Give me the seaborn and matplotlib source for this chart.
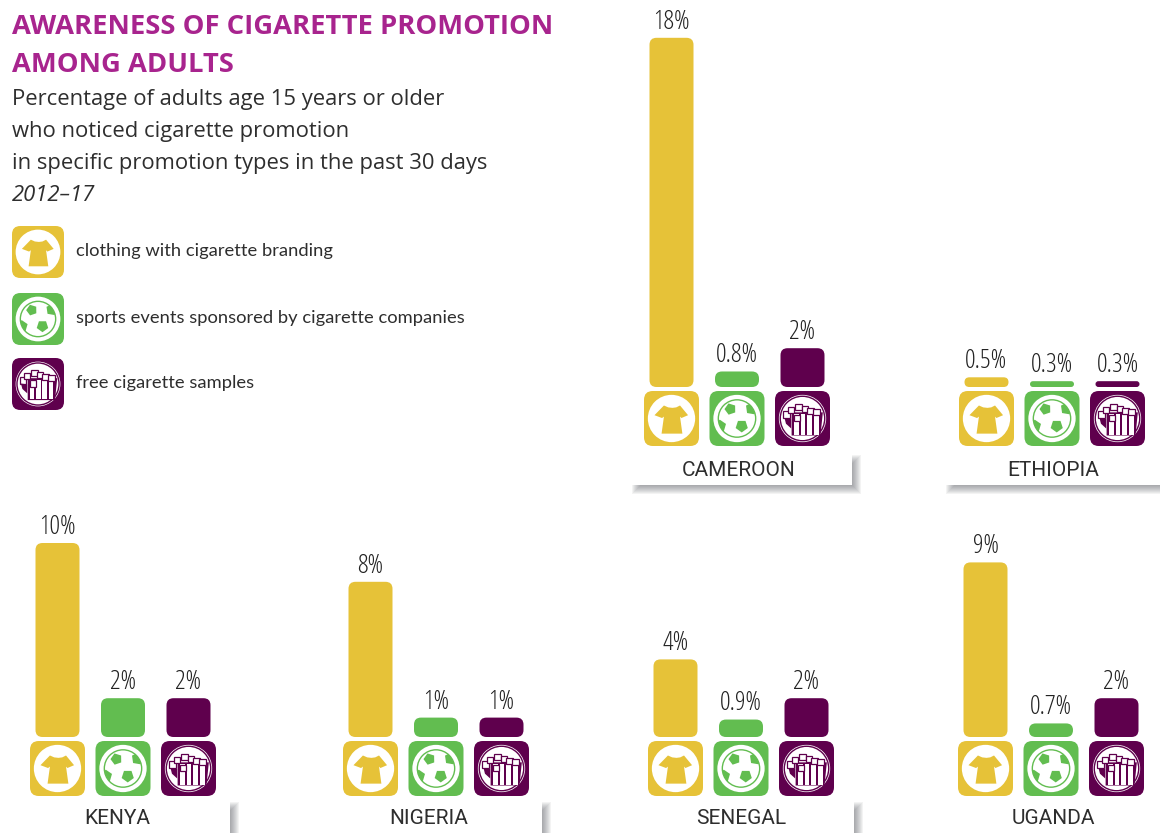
import matplotlib
matplotlib.use("Agg")
import matplotlib.pyplot as plt
from matplotlib.patches import Circle, FancyBboxPatch, Polygon, Rectangle, RegularPolygon
import pandas as pd
import seaborn as sns

# Survey results, in percent
promotion_types = ["clothing", "sports", "samples"]
legend_labels = [
    "clothing with cigarette branding",
    "sports events sponsored by cigarette companies",
    "free cigarette samples",
]
countries = ["CAMEROON", "ETHIOPIA", "KENYA", "NIGERIA", "SENEGAL", "UGANDA"]
clothing = [18, 0.5, 10, 8, 4, 9]
sports = [0.8, 0.3, 2, 1, 0.9, 0.7]
samples = [2, 0.3, 2, 1, 2, 2]

W, H = 1160, 833
YELLOW, GREEN, PURPLE = "#E6C238", "#62BD50", "#5F004D"
TEXT = "#2E2E2E"
TITLE = "#A8248E"
palette = dict(zip(promotion_types, [YELLOW, GREEN, PURPLE]))

# Layout in pixels: first bar centre, bar baseline, caption box left, top and bottom
panel_layout = {
    "CAMEROON": (671.5, 387, 628, 451, 485),
    "ETHIOPIA": (986.5, 387, 942, 451, 485),
    "KENYA": (57.5, 737, 6, 798, 833),
    "NIGERIA": (370.5, 737, 318, 798, 833),
    "SENEGAL": (675.5, 737, 630, 798, 833),
    "UGANDA": (985.5, 737, 942, 798, 833),
}
STEP = 65.5       # pixels between bars
BAR_W = 44.0      # bar width, pixels
PX_PER_PCT = 19.4
Y_MAX = 19.0

sns.set_theme(style="white")
plt.rcParams["font.family"] = ["Open Sans", "DejaVu Sans"]

df = pd.DataFrame({
    "country": countries * 3,
    "kind": sum([[k] * len(countries) for k in promotion_types], []),
    "pct": clothing + sports + samples,
})

fig = plt.figure(figsize=(W / 100, H / 100), dpi=100, facecolor="white")

# Full-figure pixel canvas for headings, pictograms and captions
canvas = fig.add_axes([0, 0, 1, 1], zorder=5)
canvas.set_xlim(0, W)
canvas.set_ylim(H, 0)
canvas.set_axis_off()
canvas.patch.set_alpha(0)


def pictogram(kind, cx, cy, size):
    half = size / 2
    colour = palette[kind]
    canvas.add_patch(FancyBboxPatch(
        (cx - half, cy - half), size, size,
        boxstyle=f"round,pad=0,rounding_size={size * 0.16}",
        fc=colour, ec="none"))
    r = size * 0.43
    disc = Circle((cx, cy), r, fc="white", ec="none")
    canvas.add_patch(disc)

    def pts(coords):
        return [(cx + u * r, cy - v * r) for u, v in coords]

    if kind == "clothing":
        canvas.add_patch(Polygon(pts([
            (-0.32, 0.55), (-0.14, 0.47), (0.04, 0.45), (0.2, 0.47), (0.36, 0.55),
            (0.7, 0.14), (0.42, 0.02), (0.36, 0.08), (0.46, -0.64), (-0.42, -0.64),
            (-0.32, 0.08), (-0.4, 0.02), (-0.72, 0.14)]), fc=colour, ec="none"))
    elif kind == "sports":
        ring = Circle((cx, cy), r * 0.79, fc="none", ec=colour, lw=1)
        canvas.add_patch(ring)
        for u, v, rad, ang in [(-0.28, 0.4, 0.25, 0.3), (0.62, 0.42, 0.27, 0.8),
                               (0.2, -0.32, 0.27, 0.0), (-0.72, -0.32, 0.27, 0.6)]:
            pent = RegularPolygon((cx + u * r, cy - v * r), 5, radius=rad * r,
                                  orientation=ang, fc=colour, ec="none")
            canvas.add_patch(pent)
            pent.set_clip_path(ring)
    else:
        canvas.add_patch(Circle((cx, cy), r * 0.94, fc="none", ec=colour, lw=1))
        canvas.add_patch(Polygon(pts([(-0.46, 0.26), (0.86, 0.26), (0.76, -0.72),
                                      (-0.46, -0.72)]), fc=colour, ec="none"))
        for u in [-0.36, -0.08, 0.2, 0.48]:
            canvas.add_patch(Polygon(pts([(u, 0.18), (u + 0.2, 0.18),
                                          (u + 0.2, -0.68), (u, -0.68)]),
                                     fc="white", ec="none"))
        for u, v in [(-0.82, 0.3), (-0.62, 0.5), (-0.38, 0.16), (-0.3, 0.62),
                     (-0.04, 0.54), (0.2, 0.46), (0.46, 0.42)]:
            canvas.add_patch(Rectangle((cx + u * r, cy - v * r), 0.28 * r, 0.28 * r,
                                       fc="white", ec=colour, lw=0.9))
        canvas.add_patch(Polygon(pts([(-0.76, 0.02), (-0.48, -0.02), (-0.48, -0.42),
                                      (-0.7, -0.22)]), fc=colour, ec="none"))


def caption_box(text, left, top, bottom):
    right = left + 224
    # Soft drop shadow built from stacked translucent layers
    for i in range(9):
        canvas.add_patch(Rectangle(
            (left + 4 + i, top + 4 + i),
            right - left + 5 - 2 * i, bottom - top + 5 - 2 * i,
            fc="#55585f", ec="none", alpha=0.07))
    canvas.add_patch(Rectangle((left, top), right - left, bottom - top,
                               fc="white", ec="none"))
    canvas.text(left + 111, (top + bottom) / 2 + 2.5, text, ha="center", va="center",
                fontsize=15, color=TEXT, family=["Roboto", "DejaVu Sans"])


for country in countries:
    c0, base, box_left, box_top, box_bottom = panel_layout[country]
    ax = fig.add_axes([(c0 - STEP * 0.5) / W, (H - base) / H,
                       3 * STEP / W, Y_MAX * PX_PER_PCT / H])
    sub = df[df["country"] == country]
    sns.barplot(data=sub, x="kind", y="pct", hue="kind", order=promotion_types,
                hue_order=promotion_types, palette=palette, width=BAR_W / STEP,
                saturation=1, legend=False, errorbar=None, ax=ax)
    ax.set_xlim(-0.5, 2.5)
    ax.set_ylim(0, Y_MAX)
    aspect = STEP / PX_PER_PCT
    for bar in list(ax.patches):
        x, w, h = bar.get_x(), bar.get_width(), bar.get_height()
        if h <= 0:
            continue
        radius = min(7.0, h * PX_PER_PCT / 2) / STEP
        ax.add_patch(FancyBboxPatch(
            (x, 0), w, h, boxstyle=f"round,pad=0,rounding_size={radius}",
            mutation_aspect=aspect, fc=bar.get_facecolor(), ec="none", clip_on=False))
        ax.annotate(f"{h:g}%", (x + w / 2, h), xytext=(0, 2.2),
                    textcoords="offset points", ha="center", va="bottom",
                    fontsize=19, color="#222222", fontstretch="condensed",
                    fontweight="light", annotation_clip=False)
        bar.remove()
    ax.set_axis_off()
    ax.patch.set_alpha(0)

    for i, kind in enumerate(promotion_types):
        pictogram(kind, c0 + i * STEP, base + 31.5, 55)
    caption_box(country, box_left, box_top, box_bottom)

# Heading block
canvas.text(12, 26.5, "AWARENESS OF CIGARETTE PROMOTION", fontsize=19.7, fontweight="bold",
            color=TITLE, va="center", ha="left")
canvas.text(12, 65, "AMONG ADULTS", fontsize=19.7, fontweight="bold",
            color=TITLE, va="center", ha="left")
sub_lines = ["Percentage of adults age 15 years or older",
             "who noticed cigarette promotion",
             "in specific promotion types in the past 30 days"]
for y, line in zip([99.5, 131.5, 163.5], sub_lines):
    canvas.text(12, y, line, fontsize=15.85, color=TEXT, va="center", ha="left")
canvas.text(12, 195.5, "2012–17", fontsize=15.85, color=TEXT, style="italic",
            va="center", ha="left")

# Key
for kind, label, y in zip(promotion_types, legend_labels, [252, 319, 384]):
    pictogram(kind, 38, y, 52)
    canvas.text(76, y - 1.5, label, fontsize=13.25, color=TEXT, va="center", ha="left",
                family=["Lato", "DejaVu Sans"])

fig.savefig("out.png", dpi=100, facecolor="white")
